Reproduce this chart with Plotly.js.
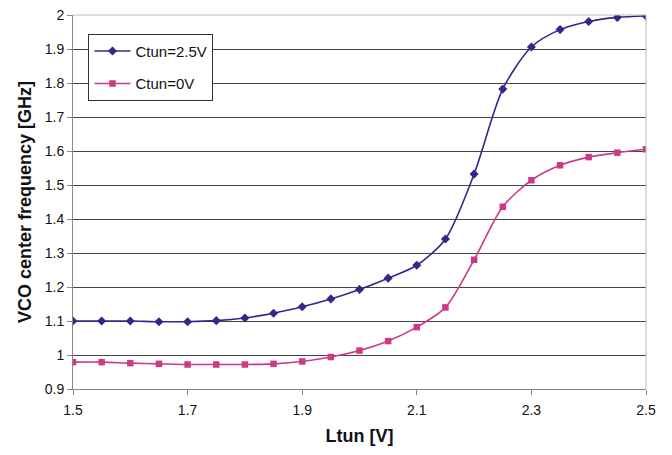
<!DOCTYPE html>
<html><head><meta charset="utf-8">
<script src="https://cdn.plot.ly/plotly-3.0.1.min.js"></script>
<style>html,body{margin:0;padding:0;background:#fff}#chart{width:672px;height:455px}</style>
</head><body><div id="chart"></div>
<script>
const ltun = [1.5,1.55,1.6,1.65,1.7,1.75,1.8,1.85,1.9,1.95,2.0,2.05,2.1,2.15,2.2,2.25,2.3,2.35,2.4,2.45,2.5];
const ctun25 = [1.100,1.100,1.100,1.098,1.098,1.101,1.109,1.123,1.142,1.165,1.193,1.226,1.264,1.341,1.532,1.782,1.906,1.957,1.981,1.993,1.997];
const ctun0 = [0.979,0.979,0.976,0.974,0.972,0.972,0.972,0.974,0.981,0.994,1.013,1.041,1.082,1.140,1.280,1.436,1.514,1.558,1.582,1.595,1.605];
const xTicks = [1.5,1.7,1.9,2.1,2.3,2.5];
const yTicks = [0.9,1,1.1,1.2,1.3,1.4,1.5,1.6,1.7,1.8,1.9,2];
const yTickText = ['0.9','1','1.1','1.2','1.3','1.4','1.5','1.6','1.7','1.8','1.9','2'];

const traces = [
  {x: ltun, y: ctun25, name: 'Ctun=2.5V', legendgroup: 'a', type: 'scatter', mode: 'lines+markers',
   line: {color: '#33288a', width: 1.6, shape: 'spline', smoothing: 0.8},
   marker: {symbol: 'diamond', size: 7, color: '#33288a'}},
  {x: ltun, y: ctun0, name: 'Ctun=0V', legendgroup: 'b', type: 'scatter', mode: 'lines+markers',
   line: {color: '#cc3a87', width: 1.6, shape: 'spline', smoothing: 0.8},
   marker: {symbol: 'square', size: 6.5, color: '#cc3a87'}}
];

const layout = {
  width: 672, height: 455,
  margin: {l: 73, r: 26, t: 15, b: 66},
  paper_bgcolor: '#fff', plot_bgcolor: '#fff',
  font: {family: 'Liberation Sans, Arial, sans-serif', color: '#111', size: 14},
  showlegend: true,
  legend: {x: 0.027, y: 0.95, xanchor: 'left', yanchor: 'top',
    bgcolor: '#fff', bordercolor: '#333', borderwidth: 1,
    font: {size: 15, color: '#111'}, tracegroupgap: 10, itemwidth: 36},
  xaxis: {range: [1.5, 2.5], tickvals: xTicks, ticktext: xTicks.map(v => v.toFixed(1)),
    showgrid: false, zeroline: false, showline: true, linecolor: '#888', linewidth: 1,
    ticks: 'outside', ticklen: 5, tickcolor: '#888', ticklabelstandoff: 3,
    tickfont: {size: 14, color: '#111'},
    title: {text: '<b>Ltun [V]</b>', font: {size: 18, color: '#111'}, standoff: 12}},
  yaxis: {range: [0.9, 2.0], tickvals: yTicks, ticktext: yTickText,
    showgrid: true, gridcolor: '#444', gridwidth: 1, zeroline: false,
    showline: true, linecolor: '#888', linewidth: 1,
    ticks: 'outside', ticklen: 5, tickcolor: '#888',
    tickfont: {size: 14, color: '#111'},
    title: {text: '<b>VCO center frequency [GHz]</b>', font: {size: 18, color: '#111'}, standoff: 8}},
  shapes: [
    {type: 'line', xref: 'paper', yref: 'paper', x0: 0, x1: 1, y0: 1, y1: 1, line: {color: '#bbb', width: 1}},
    {type: 'line', xref: 'paper', yref: 'paper', x0: 1, x1: 1, y0: 0, y1: 1, line: {color: '#bbb', width: 1}}
  ]
};
Plotly.newPlot('chart', traces, layout, {displayModeBar: false, staticPlot: true});
</script></body></html>
